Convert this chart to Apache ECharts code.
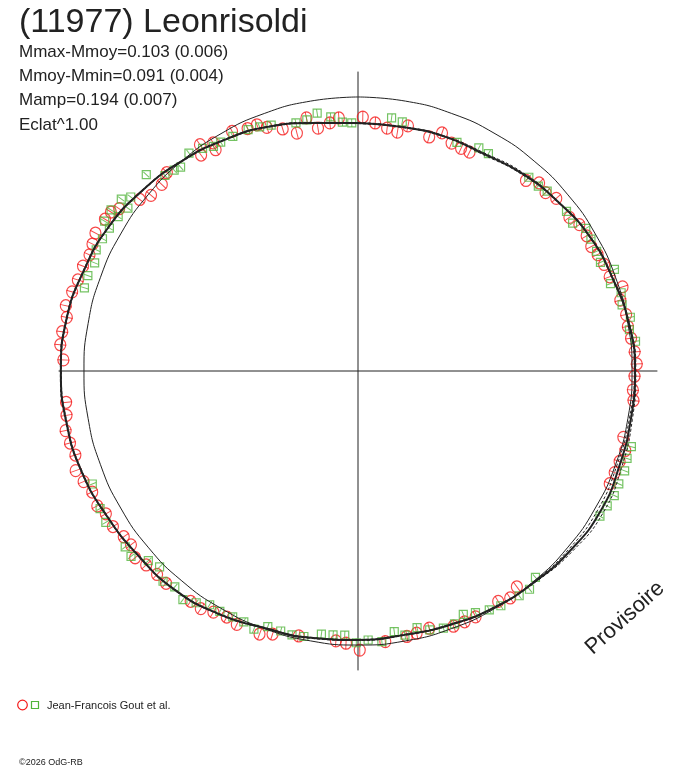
<!DOCTYPE html>
<html>
<head>
<meta charset="utf-8">
<title>(11977) Leonrisoldi</title>
<script src="https://cdn.jsdelivr.net/npm/echarts@6/dist/echarts.min.js"></script>
<style>
  html, body { margin: 0; padding: 0; background: #fff; }
  #chart { width: 688px; height: 768px; }
</style>
</head>
<body>
<div id="chart"></div>
<script>
// phase (0..1, clockwise from top) and magnitude offset from the mean (positive = fainter)
var redPhase = [0.938,0.943,0.952,0.960,0.968,0.974,0.982,0.988,0.003,0.011,0.019,0.026,0.032,0.047,0.054,0.062,0.069,0.075,
    0.115,0.122,0.129,0.136,0.150,0.157,0.165,0.172,0.178,0.185,0.193,0.201,
    0.208,0.217,0.224,0.231,0.239,0.246,0.253,0.261,0.267,0.289,0.296,0.303,0.310,0.317,
    0.399,0.406,0.413,0.429,0.436,0.443,0.457,0.465,0.471,0.484,0.499,0.507,
    0.513,0.535,0.550,0.557,0.571,0.578,0.586,0.593,0.600,0.617,0.624,0.632,0.639,0.646,0.652,0.660,0.668,0.674,0.682,
    0.689,0.696,0.704,0.711,0.718,0.726,0.733,0.742,0.750,0.756,0.764,0.771,0.779,0.785,0.793,0.800,
    0.808,0.815,0.821,0.827,0.836,0.841,0.845,0.856,0.862,0.871,0.878,0.900,0.903,0.909,0.910,0.923,0.932];
var redMag = [0.031,0.055,0.081,0.112,0.062,0.110,0.096,0.080,0.079,0.100,0.116,0.126,0.094,0.116,0.085,0.109,0.113,0.112,
    0.079,0.051,0.060,0.044,0.050,0.034,0.033,0.038,0.030,0.023,0.021,-0.014,
    0.009,0.000,0.002,-0.004,-0.013,-0.019,-0.010,-0.006,-0.012,0.002,-0.019,-0.011,-0.008,-0.007,
    0.024,0.003,0.017,0.006,0.006,0.006,0.028,0.021,0.016,0.008,-0.020,0.006,
    0.013,0.010,-0.010,-0.027,-0.027,-0.019,-0.028,-0.043,-0.042,-0.048,-0.047,-0.052,-0.066,-0.047,-0.051,-0.064,-0.062,-0.077,-0.071,
    -0.086,-0.100,-0.082,-0.090,-0.096,-0.082,-0.077,-0.105,-0.104,-0.082,-0.098,-0.096,-0.087,-0.100,-0.089,-0.081,
    -0.080,-0.073,-0.080,-0.089,-0.083,-0.078,-0.058,-0.014,0.010,0.013,-0.006,0.028,-0.008,0.043,0.015,0.013,0.030];

var greenPhase = [0.939,0.946,0.961,0.968,0.975,0.983,0.990,0.996,0.021,0.028,0.065,0.079,0.086,
    0.115,0.123,0.129,0.146,0.154,0.161,0.168,0.176,0.183,0.190,0.197,
    0.204,0.211,0.219,0.226,0.233,0.293,0.300,0.307,0.315,0.322,0.329,0.336,
    0.387,0.394,0.401,0.413,0.420,0.428,0.435,0.442,0.449,0.457,0.464,0.472,0.478,0.486,0.494,0.501,0.508,
    0.515,0.522,0.532,0.539,0.546,0.554,0.561,0.568,0.575,0.583,0.590,0.597,0.604,0.612,0.619,0.626,0.633,0.641,0.647,0.664,0.672,0.686,
    0.797,0.804,0.812,0.819,0.826,0.833,0.835,0.841,0.842,0.848,0.850,0.854,0.869,0.876,0.882,0.886,0.895,0.903,0.909,0.914,0.922,0.932];
var greenMag = [0.043,0.052,0.072,0.070,0.051,0.073,0.097,0.102,0.074,0.083,0.098,0.080,0.081,
    0.062,0.062,0.051,0.045,0.053,0.021,0.025,0.028,0.033,-0.007,0.027,
    -0.002,0.007,-0.014,-0.002,-0.020,-0.038,-0.035,-0.042,-0.040,-0.043,-0.037,-0.032,
    0.007,-0.014,-0.010,-0.003,0.006,0.021,0.035,0.013,0.012,0.021,0.042,0.023,0.043,0.009,0.019,0.009,0.038,
    0.035,0.033,0.012,0.008,0.011,0.012,-0.017,-0.006,-0.008,-0.013,-0.011,-0.034,-0.055,-0.036,-0.050,-0.019,-0.034,-0.075,-0.070,-0.079,-0.072,-0.058,
    -0.047,-0.049,-0.042,-0.057,-0.054,-0.050,-0.080,-0.044,-0.082,-0.031,-0.073,-0.048,-0.058,-0.003,0.007,0.015,-0.007,0.010,0.027,0.028,0.032,0.035];

// fitted light curve every 10 degrees of phase, and its spread
var fitMag = [0.103,0.103,0.095,0.091,0.067,0.047,0.024,0.012,-0.004,-0.012,-0.012,-0.016,-0.024,-0.016,-0.004,0.004,0.016,0.024,
    0.020,0.012,0.002,-0.024,-0.045,-0.051,-0.063,-0.079,-0.087,-0.091,-0.087,-0.071,-0.055,-0.028,0.000,0.028,0.055,0.087];
var fitSpread = [0.002,0.002,0.002,0.004,0.004,0.002,0.002,0.002,0.002,0.003,0.006,0.010,0.012,0.008,0.003,0.002,0.002,0.002,
    0.002,0.002,0.002,0.002,0.002,0.002,0.002,0.002,0.002,0.002,0.002,0.002,0.002,0.002,0.002,0.002,0.002,0.002];

var statLines = ['Mmax-Mmoy=0.103 (0.006)', 'Mmoy-Mmin=0.091 (0.004)', 'Mamp=0.194 (0.007)', 'Eclat^1.00'];

var RED = '#f51a1a';
var GREEN = '#52b43c';
var INK = '#222';
var FONT = '"Liberation Sans", Arial, sans-serif';

// radial error tick: the two zero-length pieces only fix the 10x10 box
var tickSym = 'path://M0,0L0,0M5,0L5,10M10,10L10,10';

function points(phase, mag) {
    return phase.map(function (p, i) { return [mag[i], p]; });
}
function ticks(phase, mag) {
    return phase.map(function (p, i) {
        return { value: [mag[i], p], symbolRotate: -p * 360 };
    });
}

var fitPhase = fitMag.map(function (v, i) { return i / 36; }).concat([1]);
function closed(arr) { return arr.concat([arr[0]]); }
var fitLine = closed(fitMag).map(function (m, i) { return [m, fitPhase[i]]; });
var fitHi = closed(fitMag.map(function (m, i) { return m - fitSpread[i]; })).map(function (m, i) { return [m, fitPhase[i]]; });
var fitLo = closed(fitMag.map(function (m, i) { return m + fitSpread[i]; })).map(function (m, i) { return [m, fitPhase[i]]; });
var meanLine = fitPhase.map(function (p) { return [0, p]; });

var dom = document.getElementById('chart');
var myChart = echarts.init(dom, null, { renderer: 'canvas' });

var graphics = [{
    type: 'text', x: 19, y: 23,
    style: { text: '(11977) Leonrisoldi', font: '34px ' + FONT, fill: INK, verticalAlign: 'middle', textVerticalAlign: 'middle' }
}];
statLines.forEach(function (t, i) {
    graphics.push({
        type: 'text', x: 19, y: 52 + i * 24.3,
        style: { text: t, font: '17px ' + FONT, fill: INK, verticalAlign: 'middle', textVerticalAlign: 'middle' }
    });
});
graphics.push(
    {
        type: 'text', x: 625, y: 618, rotation: 42 * Math.PI / 180,
        style: { text: 'Provisoire', font: '22px ' + FONT, fill: INK, align: 'center', textAlign: 'center', verticalAlign: 'middle', textVerticalAlign: 'middle' }
    },
    { type: 'circle', shape: { cx: 22.5, cy: 705, r: 4.8 }, style: { fill: 'none', stroke: RED, lineWidth: 1.2 } },
    { type: 'rect', shape: { x: 31.5, y: 701.5, width: 7, height: 7 }, style: { fill: 'none', stroke: GREEN, lineWidth: 1.2 } },
    {
        type: 'text', x: 47, y: 705.5,
        style: { text: 'Jean-Francois Gout et al.', font: '11px ' + FONT, fill: INK, verticalAlign: 'middle', textVerticalAlign: 'middle' }
    },
    {
        type: 'text', x: 19, y: 763,
        style: { text: '©2026 OdG-RB', font: '9px ' + FONT, fill: INK, verticalAlign: 'middle', textVerticalAlign: 'middle' }
    }
);

function lineSeries(name, data, style) {
    return {
        name: name,
        type: 'line',
        coordinateSystem: 'polar',
        data: data,
        smooth: true,
        showSymbol: false,
        silent: true,
        lineStyle: style
    };
}

option = {
    backgroundColor: '#fff',
    animation: false,
    graphic: graphics,
    polar: {
        center: [358, 371],
        radius: 299.4
    },
    angleAxis: {
        type: 'value',
        min: 0,
        max: 1,
        interval: 0.25,
        startAngle: 90,
        clockwise: true,
        axisLine: { show: false },
        axisTick: { show: false },
        axisLabel: { show: false },
        splitLine: { show: true, lineStyle: { color: INK, width: 1 } }
    },
    radiusAxis: {
        type: 'value',
        min: -0.1,
        max: 1.08,
        inverse: true,
        axisLine: { show: false },
        axisTick: { show: false },
        axisLabel: { show: false },
        splitLine: { show: false }
    },
    series: [
        lineSeries('mean', meanLine, { color: INK, width: 1 }),
        {
            name: 'red',
            type: 'scatter',
            coordinateSystem: 'polar',
            symbol: 'circle',
            symbolSize: [11, 12],
            data: points(redPhase, redMag),
            itemStyle: { color: 'none', borderColor: RED, borderWidth: 1.2 }
        },
        {
            name: 'redErr',
            type: 'scatter',
            coordinateSystem: 'polar',
            symbol: tickSym,
            symbolSize: [11, 12],
            silent: true,
            data: ticks(redPhase, redMag),
            itemStyle: { color: 'none', borderColor: RED, borderWidth: 1 }
        },
        {
            name: 'green',
            type: 'scatter',
            coordinateSystem: 'polar',
            symbol: 'rect',
            symbolSize: 8,
            data: points(greenPhase, greenMag),
            itemStyle: { color: 'none', borderColor: GREEN, borderWidth: 1.2 }
        },
        {
            name: 'greenErr',
            type: 'scatter',
            coordinateSystem: 'polar',
            symbol: tickSym,
            symbolSize: 8,
            silent: true,
            data: ticks(greenPhase, greenMag),
            itemStyle: { color: 'none', borderColor: GREEN, borderWidth: 1 }
        },
        lineSeries('fitHi', fitHi, { color: INK, width: 1, type: [3, 2] }),
        lineSeries('fitLo', fitLo, { color: INK, width: 1, type: [3, 2] }),
        lineSeries('fit', fitLine, { color: INK, width: 2 })
    ]
};
myChart.setOption(option);
</script>
</body>
</html>
